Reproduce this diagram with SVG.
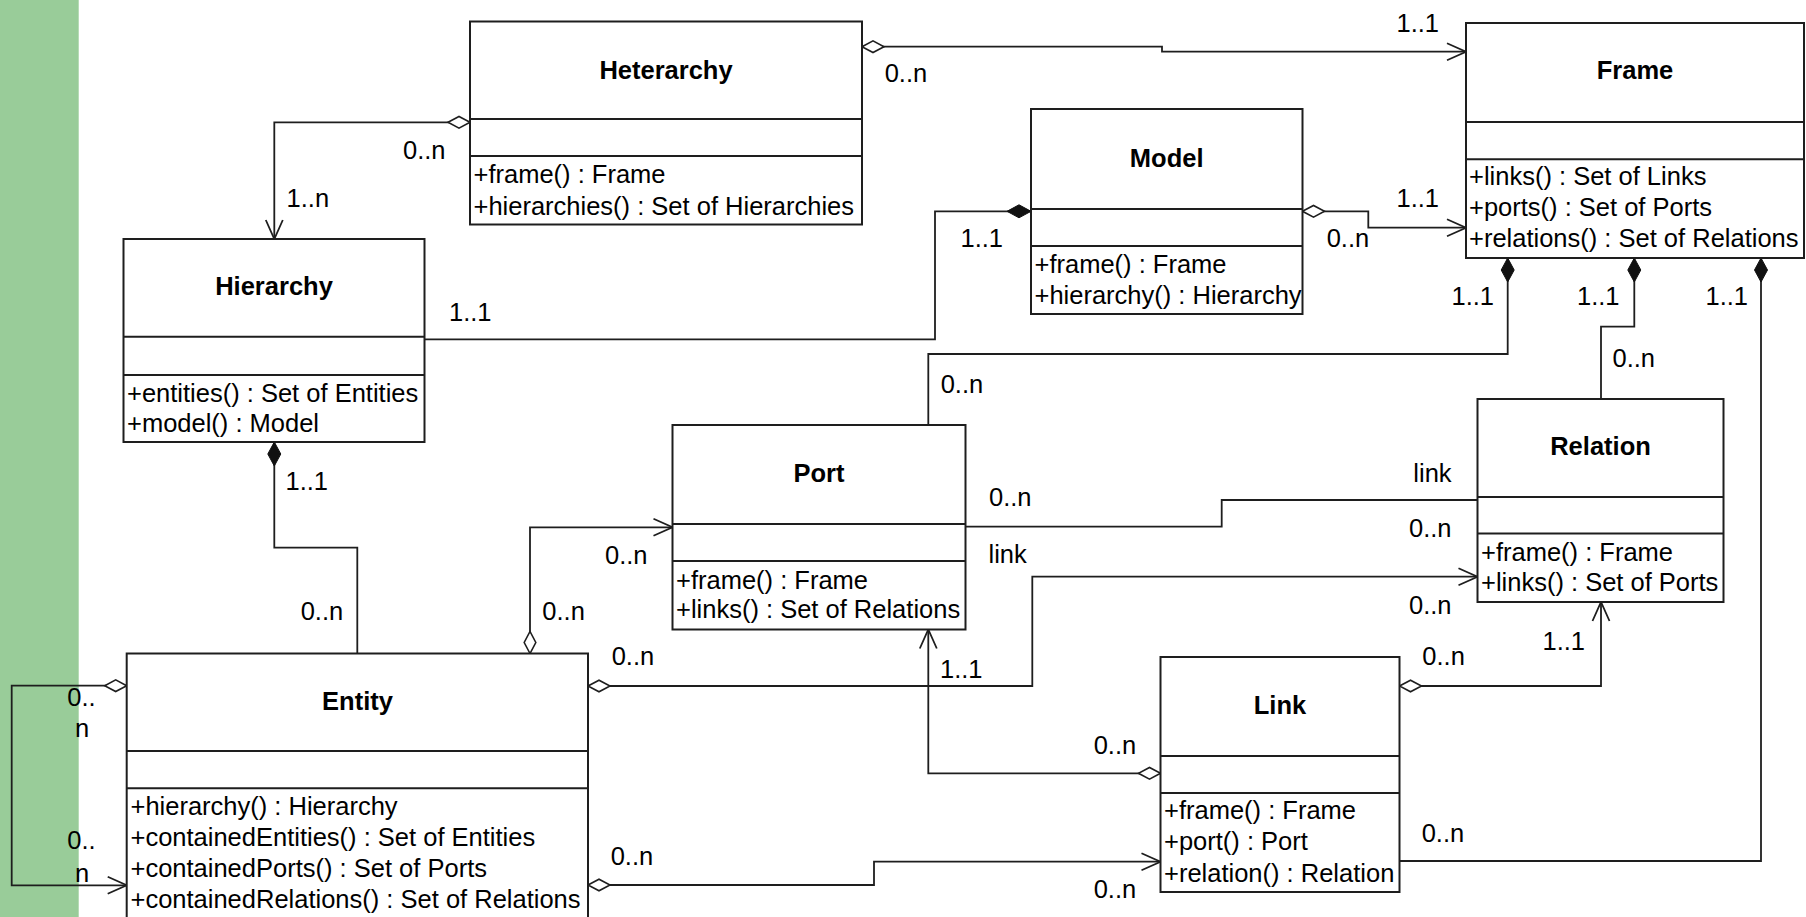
<svg xmlns="http://www.w3.org/2000/svg" width="1806" height="917" viewBox="0 0 1806 917">
  <style>
    .box { fill: #ffffff; stroke: #1e1e1e; stroke-width: 2; }
    .div { stroke: #1e1e1e; stroke-width: 2; }
    .name { font-family: "Liberation Sans", Arial, sans-serif; font-size: 25.5px; font-weight: bold; text-anchor: middle; fill: #000; }
    .op { font-family: "Liberation Sans", Arial, sans-serif; font-size: 25.5px; fill: #000; }
    .lbl { font-family: "Liberation Sans", Arial, sans-serif; font-size: 25.5px; fill: #000; }
    .conn { fill: none; stroke: #1e1e1e; stroke-width: 1.8; }
  </style>
  <defs>
    <marker id="aggr" markerUnits="userSpaceOnUse" markerWidth="26" markerHeight="16" viewBox="-2 -8 26 16" refX="0" refY="0" orient="auto">
      <path d="M0,0 L11,-5.8 L22,0 L11,5.8 Z" fill="#ffffff" stroke="#1e1e1e" stroke-width="1.6"/>
    </marker>
    <marker id="comp" markerUnits="userSpaceOnUse" markerWidth="28" markerHeight="18" viewBox="-2 -9 28 18" refX="0" refY="0" orient="auto">
      <path d="M0,0 L12,-6.5 L24,0 L12,6.5 Z" fill="#111111" stroke="#111111" stroke-width="1"/>
    </marker>
    <marker id="arrow" markerUnits="userSpaceOnUse" markerWidth="24" markerHeight="22" viewBox="-21 -11 24 22" refX="0" refY="0" orient="auto">
      <path d="M-19,-8.5 L0,0 L-19,8.5" fill="none" stroke="#1e1e1e" stroke-width="1.8"/>
    </marker>
  </defs>

  <rect width="1806" height="917" fill="#ffffff"/>
  <!-- side band -->
  <rect x="0" y="0" width="78.7" height="917" fill="#99cc99"/>

  <!-- associations -->
  <g id="connectors">
    <path class="conn" d="M862,46.7 H1162 V51.7 H1466" marker-start="url(#aggr)" marker-end="url(#arrow)"/>
    <path class="conn" d="M470,122.3 H274.3 V239" marker-start="url(#aggr)" marker-end="url(#arrow)"/>
    <path class="conn" d="M1031,211.3 H935 V339.3 H424.5" marker-start="url(#comp)"/>
    <path class="conn" d="M1302.5,211.3 H1368.3 V227.7 H1466" marker-start="url(#aggr)" marker-end="url(#arrow)"/>
    <path class="conn" d="M1507.7,258 V354 H928.3 V425" marker-start="url(#comp)"/>
    <path class="conn" d="M1634.3,258 V326.7 H1601 V399" marker-start="url(#comp)"/>
    <path class="conn" d="M1761,258 V861 H1399.5" marker-start="url(#comp)"/>
    <path class="conn" d="M274.3,442 V547.7 H357.3 V653.5" marker-start="url(#comp)"/>
    <path class="conn" d="M530,653.5 V527.3 H672.5" marker-start="url(#aggr)" marker-end="url(#arrow)"/>
    <path class="conn" d="M588,686 H1032.3 V576.7 H1477.5" marker-start="url(#aggr)" marker-end="url(#arrow)"/>
    <path class="conn" d="M965.5,526.7 H1221.7 V500 H1477.5"/>
    <path class="conn" d="M1160.5,773.3 H928.3 V629.5" marker-start="url(#aggr)" marker-end="url(#arrow)"/>
    <path class="conn" d="M1399.5,686 H1601 V602" marker-start="url(#aggr)" marker-end="url(#arrow)"/>
    <path class="conn" d="M588,885 H874 V861.7 H1160.5" marker-start="url(#aggr)" marker-end="url(#arrow)"/>
    <path class="conn" d="M126.7,685.7 H11.7 V885.3 H126.7" marker-start="url(#aggr)" marker-end="url(#arrow)"/>

    <!-- multiplicities and role names -->
    <text class="lbl" x="884.7" y="81.7">0..n</text>
    <text class="lbl" x="1396.5" y="31.7">1..1</text>
    <text class="lbl" x="403" y="159.3">0..n</text>
    <text class="lbl" x="286.6" y="207.3">1..n</text>
    <text class="lbl" x="960.5" y="246.7">1..1</text>
    <text class="lbl" x="449" y="320.7">1..1</text>
    <text class="lbl" x="1326.7" y="246.7">0..n</text>
    <text class="lbl" x="1396.5" y="206.7">1..1</text>
    <text class="lbl" x="1451.5" y="305">1..1</text>
    <text class="lbl" x="1577" y="305">1..1</text>
    <text class="lbl" x="1705.5" y="305">1..1</text>
    <text class="lbl" x="940.7" y="393.3">0..n</text>
    <text class="lbl" x="1612.5" y="366.7">0..n</text>
    <text class="lbl" x="1421.7" y="841.7">0..n</text>
    <text class="lbl" x="285.5" y="490">1..1</text>
    <text class="lbl" x="300.7" y="620">0..n</text>
    <text class="lbl" x="542.3" y="620">0..n</text>
    <text class="lbl" x="605" y="564">0..n</text>
    <text class="lbl" x="611.7" y="665">0..n</text>
    <text class="lbl" x="940" y="678.3">1..1</text>
    <text class="lbl" x="988.5" y="563.3">link</text>
    <text class="lbl" x="989" y="506">0..n</text>
    <text class="lbl" x="1413.3" y="481.7">link</text>
    <text class="lbl" x="1409" y="537.3">0..n</text>
    <text class="lbl" x="1409" y="614">0..n</text>
    <text class="lbl" x="1422.3" y="665">0..n</text>
    <text class="lbl" x="1542.5" y="650">1..1</text>
    <text class="lbl" x="1093.7" y="754">0..n</text>
    <text class="lbl" x="610.7" y="865">0..n</text>
    <text class="lbl" x="1093.7" y="898.3">0..n</text>
    <text class="lbl"><tspan x="67.3" y="706">0..</tspan><tspan x="75" y="736.7">n</tspan></text>
    <text class="lbl"><tspan x="67.3" y="849.3">0..</tspan><tspan x="75" y="881.7">n</tspan></text>
  </g>

  <g id="heterarchy">
    <rect class="box" x="470" y="21.5" width="392" height="203"/>
    <line class="div" x1="470" y1="119" x2="862" y2="119"/>
    <line class="div" x1="470" y1="156" x2="862" y2="156"/>
    <text class="name" x="666" y="79">Heterarchy</text>
    <text class="op" x="473.5" y="183">+frame() : Frame</text>
    <text class="op" x="473.5" y="214.5">+hierarchies() : Set of Hierarchies</text>
  </g>

  <g id="model">
    <rect class="box" x="1031" y="109" width="271.5" height="205"/>
    <line class="div" x1="1031" y1="209" x2="1302.5" y2="209"/>
    <line class="div" x1="1031" y1="246" x2="1302.5" y2="246"/>
    <text class="name" x="1166.7" y="167">Model</text>
    <text class="op" x="1034.5" y="273">+frame() : Frame</text>
    <text class="op" x="1034.5" y="303.5">+hierarchy() : Hierarchy</text>
  </g>

  <g id="frame">
    <rect class="box" x="1466" y="23" width="338" height="235"/>
    <line class="div" x1="1466" y1="122" x2="1804" y2="122"/>
    <line class="div" x1="1466" y1="159.3" x2="1804" y2="159.3"/>
    <text class="name" x="1635" y="79">Frame</text>
    <text class="op" x="1469" y="185">+links() : Set of Links</text>
    <text class="op" x="1469" y="216">+ports() : Set of Ports</text>
    <text class="op" x="1469" y="246.8">+relations() : Set of Relations</text>
  </g>

  <g id="hierarchy">
    <rect class="box" x="123.5" y="239" width="301" height="203"/>
    <line class="div" x1="123.5" y1="336.7" x2="424.5" y2="336.7"/>
    <line class="div" x1="123.5" y1="375" x2="424.5" y2="375"/>
    <text class="name" x="274" y="295">Hierarchy</text>
    <text class="op" x="127" y="401.5">+entities() : Set of Entities</text>
    <text class="op" x="127" y="431.5">+model() : Model</text>
  </g>

  <g id="port">
    <rect class="box" x="672.5" y="425" width="293" height="204.5"/>
    <line class="div" x1="672.5" y1="524" x2="965.5" y2="524"/>
    <line class="div" x1="672.5" y1="561" x2="965.5" y2="561"/>
    <text class="name" x="819" y="481.7">Port</text>
    <text class="op" x="676" y="588.5">+frame() : Frame</text>
    <text class="op" x="676" y="618">+links() : Set of Relations</text>
  </g>

  <g id="relation">
    <rect class="box" x="1477.5" y="399" width="246" height="203"/>
    <line class="div" x1="1477.5" y1="497" x2="1723.5" y2="497"/>
    <line class="div" x1="1477.5" y1="533.5" x2="1723.5" y2="533.5"/>
    <text class="name" x="1600.5" y="455">Relation</text>
    <text class="op" x="1481" y="560.5">+frame() : Frame</text>
    <text class="op" x="1481" y="591">+links() : Set of Ports</text>
  </g>

  <g id="link">
    <rect class="box" x="1160.5" y="657" width="239" height="235"/>
    <line class="div" x1="1160.5" y1="756" x2="1399.5" y2="756"/>
    <line class="div" x1="1160.5" y1="793" x2="1399.5" y2="793"/>
    <text class="name" x="1280" y="713.5">Link</text>
    <text class="op" x="1164" y="818.5">+frame() : Frame</text>
    <text class="op" x="1164" y="850">+port() : Port</text>
    <text class="op" x="1164" y="881.5">+relation() : Relation</text>
  </g>

  <g id="entity">
    <rect class="box" x="126.7" y="653.5" width="461.3" height="272"/>
    <line class="div" x1="126.7" y1="751" x2="588" y2="751"/>
    <line class="div" x1="126.7" y1="788.3" x2="588" y2="788.3"/>
    <text class="name" x="357.5" y="710">Entity</text>
    <text class="op" x="130.5" y="815">+hierarchy() : Hierarchy</text>
    <text class="op" x="130.5" y="846">+containedEntities() : Set of Entities</text>
    <text class="op" x="130.5" y="877">+containedPorts() : Set of Ports</text>
    <text class="op" x="130.5" y="907.8">+containedRelations() : Set of Relations</text>
  </g>
</svg>
